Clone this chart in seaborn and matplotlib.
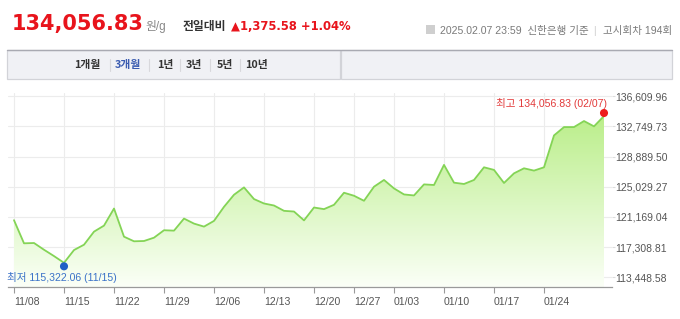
import numpy as np
import matplotlib
matplotlib.use("Agg")
import matplotlib.pyplot as plt
import matplotlib.transforms as mtrans
from matplotlib.patches import Rectangle
from matplotlib.lines import Line2D
from matplotlib.colors import to_rgb
import seaborn as sns

# ---------------- data ----------------
dates = ["11/08", "11/11", "11/12", "11/13", "11/14", "11/15",
         "11/18", "11/19", "11/20", "11/21", "11/22",
         "11/25", "11/26", "11/27", "11/28", "11/29",
         "12/02", "12/03", "12/04", "12/05", "12/06",
         "12/09", "12/10", "12/11", "12/12", "12/13",
         "12/16", "12/17", "12/18", "12/19", "12/20",
         "12/23", "12/24", "12/26", "12/27",
         "12/30", "12/31", "01/02", "01/03",
         "01/06", "01/07", "01/08", "01/09", "01/10",
         "01/13", "01/14", "01/15", "01/16", "01/17",
         "01/20", "01/21", "01/22", "01/23", "01/24",
         "01/31", "02/03", "02/04", "02/05", "02/06", "02/07"]
prices = [120763, 117811, 117850, 116990, 116182, 115322.06,
          116952, 117632, 119300, 120070, 122251,
          118658, 118068, 118107, 118530, 119480,
          119428, 120968, 120326, 119942, 120673,
          122469, 124009, 124946, 123458, 122893,
          122636, 121956, 121866, 120737, 122380,
          122174, 122726, 124266, 123881,
          123239, 125036, 125896, 124818,
          124048, 123919, 125331, 125254, 127820,
          125549, 125382, 125896, 127512, 127179,
          125511, 126742, 127384, 127089, 127512,
          131580, 132645, 132645, 133415, 132735, 134056.83]
xtick_labels = ["11/08", "11/15", "11/22", "11/29", "12/06", "12/13",
                "12/20", "12/27", "01/03", "01/10", "01/17", "01/24"]
ytick_values = [113448.58, 117308.81, 121169.04, 125029.27,
                128889.50, 132749.73, 136609.96]
headline = "134,056.83"
change_text = "▲1,375.58 +1.04%"
tabs = ["1개월", "3개월", "1년", "3년", "5년", "10년"]

# ---------------- style ----------------
sns.set_style("white")
plt.rcParams["font.family"] = ["DejaVu Sans", "Noto Sans CJK KR"]
LS = ["Liberation Sans", "Noto Sans CJK KR"]

W, H = 680, 319
fig = plt.figure(figsize=(W / 100, H / 100), dpi=100)
fig.patch.set_facecolor("white")


def fx(x):
    return x / W


def fy(y):
    return 1 - y / H


# ---------------- header ----------------
red = "#e8141c"
fig.text(fx(12), fy(30), headline, color=red, fontsize=15,
         fontweight="bold", va="baseline", ha="left")
fig.text(fx(145), fy(30), "원/g", color="#888888", fontsize=8.5,
         va="baseline", ha="left", family=LS)
fig.text(fx(183), fy(30), "전일대비", color="#333333", fontsize=8.5,
         fontweight="bold", va="baseline", ha="left",
         family=["Noto Sans CJK KR", "DejaVu Sans"])
fig.text(fx(231), fy(30), change_text, color=red, fontsize=8.4,
         fontweight="bold", va="baseline", ha="left")

# small calendar icon
fig.patches.append(Rectangle((fx(426), fy(34)), fx(9), fy(25) - fy(34),
                             transform=fig.transFigure, facecolor="#cfcfcf",
                             edgecolor="none"))
fig.text(fx(440), fy(34), "2025.02.07 23:59  신한은행 기준", color="#7a7a7a",
         fontsize=7.6, va="baseline", ha="left", family=LS)
fig.text(fx(594), fy(34), "|", color="#d0d0d0", fontsize=7.6,
         va="baseline", ha="center", family=LS)
fig.text(fx(672), fy(34), "고시회차 194회", color="#7a7a7a", fontsize=7.6,
         va="baseline", ha="right", family=LS)

# ---------------- tab bar ----------------
for (x0, x1) in [(7, 340), (341, 672)]:
    fig.patches.append(Rectangle((fx(x0), fy(79)), fx(x1) - fx(x0), fy(50) - fy(79),
                                 transform=fig.transFigure, facecolor="#f0f1f5",
                                 edgecolor="#d2d3d8", lw=0.9))
fig.lines.append(Line2D([fx(7), fx(672)], [fy(50), fy(50)],
                        transform=fig.transFigure, color="#a9aab2", lw=1.0))
tab_x = [87.5, 128, 165, 194, 225, 257]
sep_x = [110, 149, 180, 210, 240]
for t, xx in zip(tabs, tab_x):
    fig.text(fx(xx), fy(65), t, color="#3a5bb0" if t == "3개월" else "#333333",
             fontsize=7.8, fontweight="bold", va="center", ha="center",
             family=["Noto Sans CJK KR", "DejaVu Sans"])
for xx in sep_x:
    fig.lines.append(Line2D([fx(xx), fx(xx)], [fy(59), fy(71)],
                            transform=fig.transFigure, color="#d8d8dc", lw=0.8))

# ---------------- chart ----------------
ax = fig.add_axes([fx(8), fy(287), fx(612) - fx(8), fy(93) - fy(287)])
ax.set_facecolor("white")
x = np.arange(len(dates))
vals = np.array(prices, dtype=float)

xlim = (-0.6, 59.8)
ylim = (112236, 136993)

# gradient fill
top_c = np.array(to_rgb("#b2ec7c"))
bot_c = np.array(to_rgb("#fbfff7"))
tt = np.linspace(0, 1, 256)[:, None]
grad = (top_c[None, :] * (1 - tt) + bot_c[None, :] * tt)[:, None, :]
im = ax.imshow(grad, extent=[xlim[0], xlim[1], ylim[0], ylim[1]],
               aspect="auto", origin="upper", zorder=1, interpolation="bilinear")
poly = ax.fill_between(x, vals, ylim[0], color="none", lw=0)
im.set_clip_path(poly.get_paths()[0], transform=ax.transData)

sns.lineplot(x=x, y=vals, ax=ax, color="#84d456", lw=1.3, zorder=3)

ax.set_xlim(*xlim)
ax.set_ylim(*ylim)

tick_idx = [dates.index(d) for d in xtick_labels]
ax.set_xticks(tick_idx)
ax.set_xticklabels(xtick_labels, family=LS, fontsize=7.6, color="#555555",
                   ha="left")
ax.set_yticks(ytick_values)
ax.set_yticklabels([f"{v:,.2f}" for v in ytick_values], family=LS,
                   fontsize=7.5, color="#555555")
ax.yaxis.tick_right()
ax.grid(True, color="#ececec", lw=0.8, zorder=0)
ax.set_axisbelow(True)
for s in ["top", "left", "right"]:
    ax.spines[s].set_visible(False)
ax.spines["bottom"].set_color("#9a9a9a")
ax.spines["bottom"].set_linewidth(0.9)
ax.tick_params(axis="x", length=4, color="#9a9a9a", pad=3, direction="out",
               bottom=True)
ax.tick_params(axis="y", length=2, color="#dddddd", pad=0.5, right=True,
               left=False)
for lab in ax.get_xticklabels():
    lab.set_horizontalalignment("left")
ax.set_xlabel("")
ax.set_ylabel("")

# extremes
imax = int(np.argmax(vals))
imin = int(np.argmin(vals))
up = mtrans.offset_copy(ax.transData, fig=fig, y=3, units="dots")
down = mtrans.offset_copy(ax.transData, fig=fig, y=-3.5, units="dots")
ax.scatter([x[imax]], [vals[imax]], s=34, color="#ee1c1c", zorder=5,
           transform=up, edgecolors="none", clip_on=False)
ax.scatter([x[imin]], [vals[imin]], s=34, color="#1f5fc6", zorder=5,
           transform=down, edgecolors="none", clip_on=False)
ax.annotate(f"최고 {vals[imax]:,.2f} ({dates[imax]})",
            xy=(x[imax], vals[imax]), xytext=(3, 13), textcoords="offset pixels",
            ha="right", va="center", color="#e23a3a", fontsize=7.6,
            family=LS, annotation_clip=False, zorder=6)
ax.annotate(f"최저 {vals[imin]:,.2f} ({dates[imin]})",
            xy=(x[imin], vals[imin]), xytext=(-57, -14.5), textcoords="offset pixels",
            ha="left", va="center", color="#3a72c8", fontsize=7.6,
            family=LS, annotation_clip=False, zorder=6)

fig.savefig("out.png", dpi=100, facecolor="white")
